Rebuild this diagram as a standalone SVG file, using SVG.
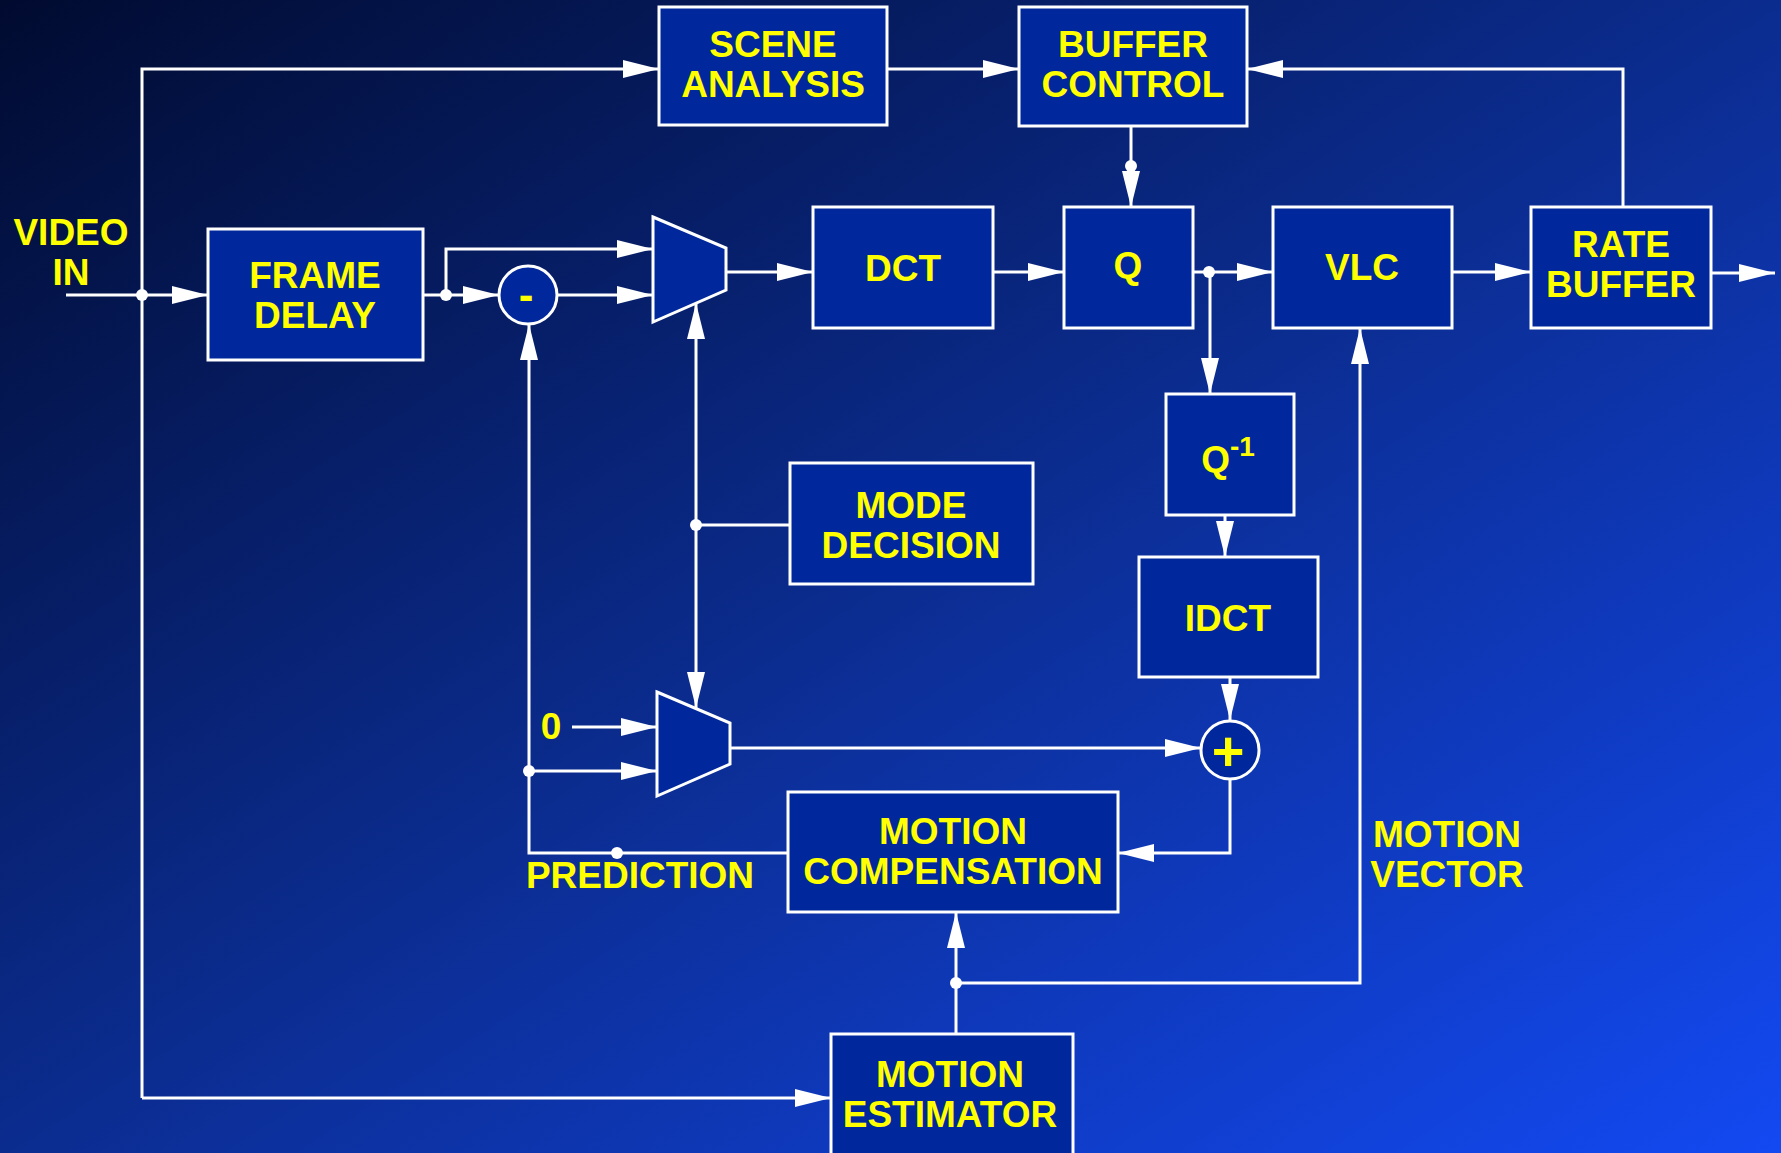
<svg xmlns="http://www.w3.org/2000/svg" width="1781" height="1153" viewBox="0 0 1781 1153">
<defs>
<linearGradient id="bg" x1="0" y1="0" x2="1" y2="1">
<stop offset="0" stop-color="#010b30"/>
<stop offset="0.5" stop-color="#0b2c8f"/>
<stop offset="1" stop-color="#1349f2"/>
</linearGradient>
<marker id="ar" viewBox="0 0 36 18" refX="36" refY="9" markerWidth="36" markerHeight="18" markerUnits="userSpaceOnUse" orient="auto">
<path d="M0,0 L36,9 L0,18 z" fill="#fff"/>
</marker>
</defs>
<style>
.box{fill:#00289c;stroke:#fff;stroke-width:3}
.t{font-family:"Liberation Sans",Arial,sans-serif;font-weight:bold;font-size:37px;fill:#ffff00;text-anchor:middle}
.ln{fill:none;stroke:#fff;stroke-width:3}
.a{marker-end:url(#ar)}
.dot{fill:#fff}
</style>
<rect x="0" y="0" width="1781" height="1153" fill="url(#bg)"/>

<g id="connectors">
<path class="ln a" d="M66,295 L208,295"/>
<path class="ln a" d="M142,1098 L142,69 L659,69"/>
<path class="ln a" d="M142,1098 L831,1098"/>
<path class="ln a" d="M887,69 L1019,69"/>
<path class="ln a" d="M423,295 L499,295"/>
<path class="ln a" d="M446,295 L446,249 L653,249"/>
<path class="ln a" d="M557,295 L653,295"/>
<path class="ln a" d="M726,272 L813,272"/>
<path class="ln a" d="M993,272 L1064,272"/>
<path class="ln a" d="M1131,126 L1131,207"/>
<path class="ln a" d="M1193,272 L1273,272"/>
<path class="ln a" d="M1210,272 L1210,394"/>
<path class="ln a" d="M1452,272 L1531,272"/>
<path class="ln a" d="M1711,273 L1775,273"/>
<path class="ln a" d="M1623,207 L1623,69 L1247,69"/>
<path class="ln a" d="M1225,515 L1225,557"/>
<path class="ln a" d="M1230,677 L1230,720"/>
<path class="ln a" d="M730,748 L1201,748"/>
<path class="ln a" d="M1230,778 L1230,853 L1118,853"/>
<path class="ln a" d="M788,853 L529,853 L529,324"/>
<path class="ln a" d="M529,771 L657,771"/>
<path class="ln a" d="M572,727 L657,727"/>
<path class="ln" d="M790,525 L696,525"/>
<path class="ln a" d="M696,525 L696,303"/>
<path class="ln a" d="M696,525 L696,708"/>
<path class="ln a" d="M956,1034 L956,912"/>
<path class="ln a" d="M956,983 L1360,983 L1360,328"/>
<ellipse class="dot" cx="142" cy="295" rx="6" ry="6"/>
<ellipse class="dot" cx="446" cy="295" rx="6" ry="6"/>
<ellipse class="dot" cx="1131" cy="166" rx="6" ry="6"/>
<ellipse class="dot" cx="1209" cy="272" rx="6" ry="6"/>
<ellipse class="dot" cx="696" cy="525" rx="6" ry="6"/>
<ellipse class="dot" cx="529" cy="771" rx="6" ry="6"/>
<ellipse class="dot" cx="617" cy="853" rx="6" ry="6"/>
<ellipse class="dot" cx="956" cy="983" rx="6" ry="6"/>
</g>

<g id="video-in">
<text class="t" x="71" y="245">VIDEO</text>
<text class="t" x="71" y="285">IN</text>
</g>

<g id="scene-analysis">
<rect class="box" x="659" y="7" width="228" height="118"/>
<text class="t" x="773" y="57">SCENE</text>
<text class="t" x="773" y="97">ANALYSIS</text>
</g>

<g id="buffer-control">
<rect class="box" x="1019" y="7" width="228" height="119"/>
<text class="t" x="1133" y="57">BUFFER</text>
<text class="t" x="1133" y="97">CONTROL</text>
</g>

<g id="frame-delay">
<rect class="box" x="208" y="229" width="215" height="131"/>
<text class="t" x="315" y="288">FRAME</text>
<text class="t" x="315" y="328">DELAY</text>
</g>

<g id="subtract">
<circle class="box" cx="528" cy="295" r="29"/>
<text class="t" x="526" y="310" style="font-size:44px">-</text>
</g>

<g id="mux1">
<path class="box" d="M653,217 L726,248 L726,290 L653,322 z"/>
</g>

<g id="dct">
<rect class="box" x="813" y="207" width="180" height="121"/>
<text class="t" x="903" y="281">DCT</text>
</g>

<g id="q">
<rect class="box" x="1064" y="207" width="129" height="121"/>
<text class="t" x="1128" y="278">Q</text>
</g>

<g id="vlc">
<rect class="box" x="1273" y="207" width="179" height="121"/>
<text class="t" x="1362" y="280">VLC</text>
</g>

<g id="rate-buffer">
<rect class="box" x="1531" y="207" width="180" height="121"/>
<text class="t" x="1621" y="257">RATE</text>
<text class="t" x="1621" y="297">BUFFER</text>
</g>

<g id="q-inverse">
<rect class="box" x="1166" y="394" width="128" height="121"/>
<text class="t" x="1228" y="472">Q<tspan dy="-16" style="font-size:28px">-1</tspan></text>
</g>

<g id="mode-decision">
<rect class="box" x="790" y="463" width="243" height="121"/>
<text class="t" x="911" y="518">MODE</text>
<text class="t" x="911" y="558">DECISION</text>
</g>

<g id="idct">
<rect class="box" x="1139" y="557" width="179" height="120"/>
<text class="t" x="1228" y="631">IDCT</text>
</g>

<g id="mux2">
<path class="box" d="M657,692 L730,723 L730,764 L657,796 z"/>
<text class="t" x="551" y="739">0</text>
</g>

<g id="add">
<circle class="box" cx="1230" cy="750" r="29"/>
<text class="t" x="1228" y="770" style="font-size:56px">+</text>
</g>

<g id="motion-compensation">
<rect class="box" x="788" y="792" width="330" height="120"/>
<text class="t" x="953" y="844">MOTION</text>
<text class="t" x="953" y="884">COMPENSATION</text>
<text class="t" x="640" y="888">PREDICTION</text>
</g>

<g id="motion-vector">
<text class="t" x="1447" y="847">MOTION</text>
<text class="t" x="1447" y="887">VECTOR</text>
</g>

<g id="motion-estimator">
<rect class="box" x="831" y="1034" width="242" height="140"/>
<text class="t" x="950" y="1087">MOTION</text>
<text class="t" x="950" y="1127">ESTIMATOR</text>
</g>
</svg>
